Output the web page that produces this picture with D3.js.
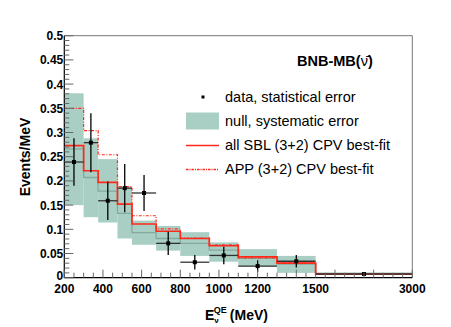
<!DOCTYPE html>
<html>
<head>
<meta charset="utf-8">
<script src="https://cdn.jsdelivr.net/npm/d3@7"></script>
<style>
  html, body { margin: 0; padding: 0; background: #fff; }
  svg text { font-family: "Liberation Sans", Arial, sans-serif; }
</style>
</head>
<body>
<svg id="chart" width="451" height="327"></svg>
<script>
// bin edges (MeV) and per-bin values (events/MeV)
var binEdges = [200, 300, 375, 475, 550, 675, 800, 950, 1100, 1300, 1500, 3000];
var dataVal  = [0.239, 0.279, 0.159, 0.185, 0.175, 0.071, 0.032, 0.046, 0.024, 0.034, 0.0076];
var dataErr  = [0.049, 0.061, 0.040, 0.050, 0.037, 0.024, 0.015, 0.018, 0.012, 0.013, 0.002];
var nullVal  = [0.266, 0.207, 0.179, 0.133, 0.093, 0.081, 0.071, 0.057, 0.040, 0.028, 0.0085];
var bandLo   = [0.150, 0.125, 0.114, 0.081, 0.068, 0.056, 0.045, 0.033, 0.023, 0.010, 0.006];
var bandHi   = [0.381, 0.288, 0.245, 0.187, 0.118, 0.107, 0.094, 0.073, 0.059, 0.045, 0.011];
var sblVal   = [0.273, 0.221, 0.197, 0.152, 0.111, 0.096, 0.081, 0.066, 0.043, 0.030, 0.0075];
var appVal   = [0.350, 0.304, 0.254, 0.188, 0.128, 0.101, 0.082, 0.068, 0.041, 0.032, 0.0078];

var xTickLabels = [200, 400, 600, 800, 1000, 1200, 1500, 3000];
var yTickLabels = [0, 0.05, 0.1, 0.15, 0.2, 0.25, 0.3, 0.35, 0.4, 0.45, 0.5];

var BAND = '#a9cfc4', NULLC = '#86a89e', RED = '#ff2a1a';

var svg = d3.select('#chart');
var L = 64.3, R = 412.3, T = 35.7, B = 277.7;

// the axis is linear up to 1500 MeV; the last bin (1500-3000) is squeezed
// into the space of 500 MeV, so ticks run on a "display" scale 200..2000
var xDisp = d3.scaleLinear().domain([200, 2000]).range([L, R]);
var x = d3.scaleLinear().domain([200, 1500, 3000]).range([xDisp(200), xDisp(1500), xDisp(2000)]);
var y = d3.scaleLinear().domain([0, 0.5]).range([B, T]);

var bins = d3.range(dataVal.length).map(function (i) {
  return { lo: binEdges[i], hi: binEdges[i + 1], i: i };
});

// systematic band
svg.append('g').selectAll('rect').data(bins).enter().append('rect')
  .attr('x', function (d) { return x(d.lo); })
  .attr('width', function (d) { return x(d.hi) - x(d.lo); })
  .attr('y', function (d) { return y(bandHi[d.i]); })
  .attr('height', function (d) { return y(bandLo[d.i]) - y(bandHi[d.i]); })
  .attr('fill', BAND);

function stepPts(vals) {
  var pts = vals.map(function (v, i) { return [binEdges[i], v]; });
  pts.push([binEdges[binEdges.length - 1], vals[vals.length - 1]]);
  return pts;
}
var step = d3.line()
  .x(function (d) { return x(d[0]); })
  .y(function (d) { return y(d[1]); })
  .curve(d3.curveStepAfter);

svg.append('path').attr('d', step(stepPts(nullVal)))
  .attr('fill', 'none').attr('stroke', NULLC).attr('stroke-width', 1.3);
svg.append('path').attr('d', step(stepPts(appVal)))
  .attr('fill', 'none').attr('stroke', RED).attr('stroke-width', 1.2)
  .attr('stroke-dasharray', '3,1.5,1,1.5');
svg.append('path').attr('d', step(stepPts(sblVal)))
  .attr('fill', 'none').attr('stroke', RED).attr('stroke-width', 1.7);

// data points with errors
var pts = svg.append('g').selectAll('g').data(bins).enter().append('g');
pts.append('line')
  .attr('x1', function (d) { return x(d.lo); })
  .attr('x2', function (d) { return x(d.hi); })
  .attr('y1', function (d) { return y(dataVal[d.i]); })
  .attr('y2', function (d) { return y(dataVal[d.i]); })
  .attr('stroke', '#333').attr('stroke-width', 1.3);
pts.append('line')
  .attr('x1', function (d) { return x((d.lo + d.hi) / 2); })
  .attr('x2', function (d) { return x((d.lo + d.hi) / 2); })
  .attr('y1', function (d) { return y(dataVal[d.i] + dataErr[d.i]); })
  .attr('y2', function (d) { return y(dataVal[d.i] - dataErr[d.i]); })
  .attr('stroke', '#000').attr('stroke-width', 1.3);
pts.append('rect')
  .attr('x', function (d) { return x((d.lo + d.hi) / 2) - 2; })
  .attr('y', function (d) { return y(dataVal[d.i]) - 2; })
  .attr('width', 4).attr('height', 4).attr('fill', '#000');

// frame
svg.append('path').attr('d', 'M' + L + ',' + T + 'H' + R + 'V' + B)
  .attr('fill', 'none').attr('stroke', '#777').attr('stroke-width', 1);
svg.append('path').attr('d', 'M' + L + ',' + T + 'V' + B + 'H' + R)
  .attr('fill', 'none').attr('stroke', '#000').attr('stroke-width', 1.2);

// y ticks: minor every 0.01, major every 0.05
var yt = svg.append('g');
d3.range(0, 51).forEach(function (k) {
  var v = k / 100, major = k % 5 === 0;
  yt.append('line').attr('x1', L).attr('x2', L + (major ? 9 : 5))
    .attr('y1', y(v)).attr('y2', y(v))
    .attr('stroke', '#666').attr('stroke-width', 1);
});
yt.selectAll('text').data(yTickLabels).enter().append('text')
  .attr('x', L - 1).attr('y', function (d) { return y(d) + (d === 0 ? 2.5 : 4.5); })
  .attr('text-anchor', 'end').attr('font-size', 12).attr('font-weight', 'bold')
  .text(function (d) { return d3.format('')(d); });

// x ticks: minor every 50 (display units), major every 200
var xt = svg.append('g');
d3.range(200, 2001, 50).forEach(function (v) {
  var major = (v - 200) % 200 === 0;
  xt.append('line').attr('x1', xDisp(v)).attr('x2', xDisp(v))
    .attr('y1', B).attr('y2', B - (major ? 8 : 5))
    .attr('stroke', '#666').attr('stroke-width', 1);
});
xt.selectAll('text').data(xTickLabels).enter().append('text')
  .attr('x', function (d) { return x(d); }).attr('y', B + 15)
  .attr('text-anchor', 'middle').attr('font-size', 12).attr('font-weight', 'bold')
  .text(function (d) { return d; });

// axis titles
svg.append('text')
  .attr('transform', 'translate(30,157) rotate(-90)')
  .attr('text-anchor', 'middle').attr('font-size', 14).attr('font-weight', 'bold')
  .text('Events/MeV');
var xl = svg.append('text').attr('x', 205).attr('y', 320)
  .attr('font-size', 14).attr('font-weight', 'bold');
xl.append('tspan').text('E');
xl.append('tspan').attr('font-size', 8).attr('dx', 0).attr('dy', 3).text('ν');
xl.append('tspan').attr('font-size', 9).attr('dx', -5).attr('dy', -10).text('QE');
xl.append('tspan').attr('dy', 7).attr('dx', 3).text('(MeV)');

// title
var tt = svg.append('text').attr('x', 297).attr('y', 66)
  .attr('font-size', 14.5).attr('font-weight', 'bold');
tt.append('tspan').text('BNB-MB(');
tt.append('tspan').attr('font-weight', 'normal').text('\u03BD\u0304');
tt.append('tspan').text(')');

// legend
var lg = svg.append('g');
lg.append('rect').attr('x', 201.5).attr('y', 95.5).attr('width', 3).attr('height', 3).attr('fill', '#000');
lg.append('rect').attr('x', 186).attr('y', 112.5).attr('width', 33).attr('height', 17).attr('fill', BAND);
lg.append('line').attr('x1', 186).attr('x2', 219).attr('y1', 145.5).attr('y2', 145.5)
  .attr('stroke', RED).attr('stroke-width', 1.4);
lg.append('line').attr('x1', 186).attr('x2', 219).attr('y1', 169.5).attr('y2', 169.5)
  .attr('stroke', RED).attr('stroke-width', 1.3).attr('stroke-dasharray', '2.5,1,1,1');
var legTexts = ['data, statistical error', 'null, systematic error',
  'all SBL (3+2) CPV best-fit', 'APP (3+2) CPV best-fit'];
lg.selectAll('text').data(legTexts).enter().append('text')
  .attr('x', 225).attr('y', function (d, i) { return 102 + i * 24; })
  .attr('font-size', 14.5).text(function (d) { return d; });
</script>
</body>
</html>
